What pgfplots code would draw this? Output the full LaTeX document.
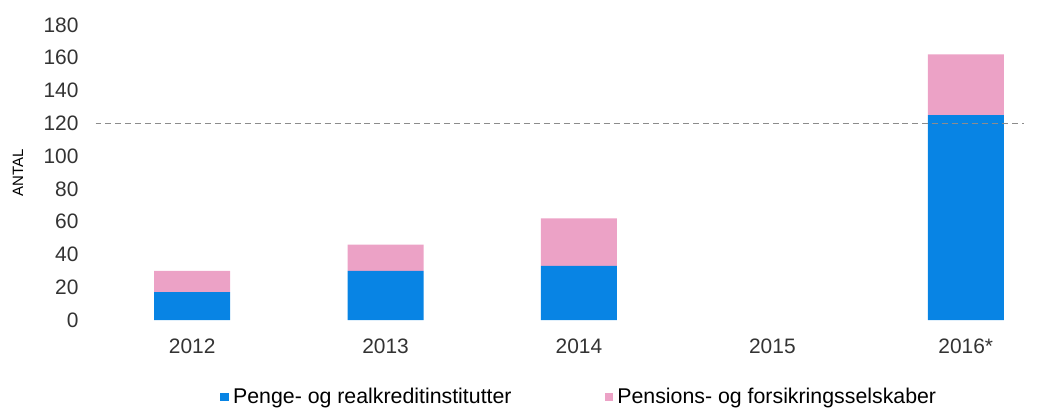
\documentclass[border=0pt]{standalone}
\usepackage{pgfplots}
\pgfplotsset{compat=1.18}
\usepackage{fontspec}
\setmainfont{Liberation Sans}
\definecolor{barblue}{RGB}{8,132,228}
\definecolor{barpink}{RGB}{236,162,198}
\begin{document}
\begin{tikzpicture}
\path[use as bounding box] (0,0) rectangle (523.5bp,205bp);
\begin{axis}[
  at={(47.75bp,45bp)}, anchor=south west,
  scale only axis,
  width=475.75bp, height=147.5bp,
  xmin=-0.5, xmax=4.42, ymin=0, ymax=180,
  clip=false,
  ybar stacked, bar width=38bp,
  axis lines=left,
  axis line style={draw=none},
  major tick length=0pt,
  ytick={0,20,...,180},
  xtick={0,1,2,3,4},
  xticklabels={2012,2013,2014,2015,2016*},
  xticklabel style={yshift=-6bp},
  yticklabel style={xshift=-5bp},
  ylabel={ANTAL},
  every axis y label/.style={at={(axis description cs:0,0.5)}, rotate=90, anchor=center, yshift=38.75bp},
  tick label style={font=\fontsize{10.5}{12}\selectfont, text=black!80},
  label style={font=\fontsize{7.5}{9}\selectfont},
  /pgf/number format/assume math mode=true,
  legend style={draw=none, fill=none, at={(axis description cs:0.1245,-0.261)}, anchor=west,
    legend columns=2, font=\fontsize{10.7}{12}\selectfont,
    /tikz/every even column/.append style={column sep=44.5bp}},
  legend image code/.code={\fill[#1] (0bp,-2.2bp) rectangle (4.4bp,2.2bp);},
]
\addplot[fill=barblue, draw=none] coordinates {(0,17) (1,30) (2,33) (3,0) (4,125)};
\addlegendentry{Penge- og realkreditinstitutter}
\addplot[fill=barpink, draw=none] coordinates {(0,13) (1,16) (2,29) (3,0) (4,37)};
\addlegendentry{Pensions- og forsikringsselskaber}
\end{axis}
\begin{axis}[
  at={(47.75bp,45bp)}, anchor=south west,
  scale only axis,
  width=475.75bp, height=147.5bp,
  xmin=-0.5, xmax=4.42, ymin=0, ymax=180,
  hide axis, clip=false,
]
\addplot[black!45, densely dashed, line width=0.5pt] coordinates {(-0.5,120) (4.3,120)};
\end{axis}
\end{tikzpicture}
\end{document}
